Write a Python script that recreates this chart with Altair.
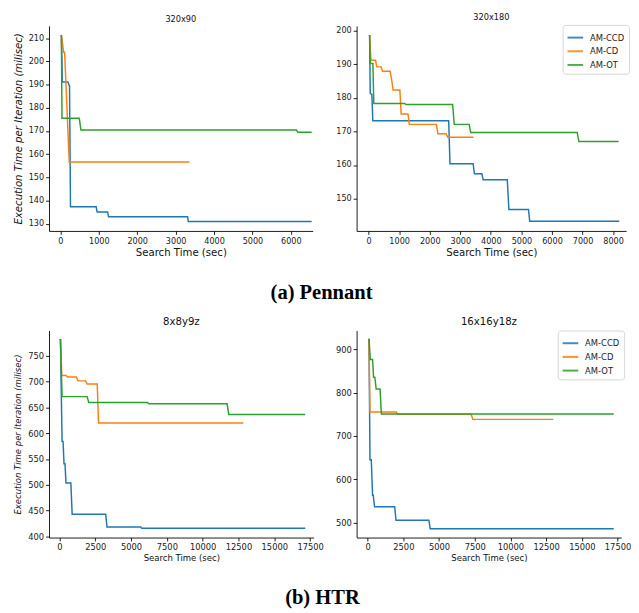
import altair as alt
import pandas as pd

SERIES = ["AM-CCD", "AM-CD", "AM-OT"]
COLORS = ["#1f77b4", "#ff7f0e", "#2ca02c"]

# ---- (a) Pennant, 320x90 ----
p1_ccd_x = [25, 50, 194, 237, 262, 931, 956, 1230, 1253, 3310, 3331, 6542]
p1_ccd_y = [211.4, 191.1, 191.1, 189.3, 137.3, 137.3, 135.1, 135.1, 133.0, 133.0, 131.0, 131.0]
p1_cd_x = [25, 84, 109, 229, 3356]
p1_cd_y = [211.4, 203.9, 203.9, 156.6, 156.6]
p1_ot_x = [25, 41, 491, 534, 6143, 6185, 6542]
p1_ot_y = [211.4, 175.5, 175.5, 170.4, 170.4, 169.4, 169.4]

# ---- (a) Pennant, 320x180 ----
p2_ccd_x = [32, 53, 106, 138, 2620, 2662, 3419, 3461, 3706, 3749, 4537, 4590, 5229, 5272, 8200]
p2_ccd_y = [198.7, 181.3, 181.0, 173.2, 173.2, 160.4, 160.4, 157.4, 157.4, 155.6, 155.6, 146.8, 146.8, 143.3, 143.3]
p2_cd_x = [32, 75, 224, 266, 405, 458, 703, 756, 799, 1022, 1065, 1289, 1331, 2215, 2268, 2535, 2588, 3429]
p2_cd_y = [198.7, 191.2, 191.2, 189.2, 189.2, 187.9, 187.9, 185.3, 182.3, 182.3, 175.2, 175.2, 172.1, 172.1, 169.3, 169.3, 168.3, 168.3]
p2_ot_x = [32, 53, 140, 170, 1182, 1225, 2748, 2801, 3290, 3340, 6826, 6880, 8179]
p2_ot_y = [198.7, 190.2, 190.2, 178.3, 178.3, 178.0, 178.0, 172.1, 172.1, 169.7, 169.7, 167.0, 167.0]

# ---- (b) HTR, 8x8y9z ----
p3_ccd_x = [68, 182, 250, 318, 386, 455, 795, 886, 3227, 3318, 5682, 5750, 17160]
p3_ccd_y = [782, 584, 584, 540.9, 540.9, 503.5, 503.5, 443, 443, 418.6, 418.6, 415.8, 415.8]
p3_cd_x = [68, 159, 455, 568, 1182, 1295, 1818, 1932, 2636, 2727, 12840]
p3_cd_y = [782, 711.4, 711.4, 708.5, 708.5, 701, 701, 695, 695, 619.4, 619.4]
p3_ot_x = [68, 182, 1932, 2045, 6136, 6250, 11705, 11818, 17160]
p3_ot_y = [782, 670.5, 670.5, 659.3, 659.3, 656.7, 656.7, 636, 636]

# ---- (b) HTR, 16x16y18z ----
p4_ccd_x = [91, 160, 251, 342, 388, 479, 1892, 1983, 4285, 4377, 17233]
p4_ccd_y = [924.6, 645.4, 645.4, 563, 563, 536.5, 536.5, 505.5, 505.5, 486, 486]
p4_cd_x = [91, 160, 2006, 2097, 7249, 7363, 12993]
p4_cd_y = [924.6, 755.4, 755.4, 750.5, 750.5, 738.5, 738.5]
p4_ot_x = [91, 183, 342, 410, 501, 593, 866, 957, 17233]
p4_ot_y = [924.6, 876.9, 876.9, 836, 836, 808.5, 808.5, 751, 751]

TITLES = ["320x90", "320x180", "8x8y9z", "16x16y18z"]
CAPTIONS = ["(a) Pennant", "(b) HTR"]
X_TITLE = "Search Time (sec)"
Y_TITLE = "Execution Time per Iteration (milisec)"


def make_df(lists):
    rows = []
    for name, xs, ys in zip(SERIES, lists[0::2], lists[1::2]):
        for i, (x, y) in enumerate(zip(xs, ys)):
            rows.append({"series": name, "x": x, "y": y, "i": i})
    return pd.DataFrame(rows)


def panel(df, title, title_size, w, h, xdom, xticks, ydom, yticks, ytitle,
          tick_font, label_font, legend_xy):
    color_legend = None
    if legend_xy is not None:
        color_legend = alt.Legend(
            orient="none", legendX=legend_xy[0], legendY=legend_xy[1],
            title=None, symbolType="stroke",
            symbolSize=256, symbolStrokeWidth=2, labelFontSize=8.6,
            labelFont="DejaVu Sans", labelColor="#222", fillColor="white",
            strokeColor="#d6d6d6", padding=4, cornerRadius=3,
            rowPadding=0, labelOffset=6, symbolOpacity=0.85,
        )
    yaxis = alt.Axis(values=yticks, title=ytitle, titleFontStyle="italic",
                     titleFontSize=label_font, labelFontSize=tick_font,
                     titlePadding=5)
    if ytitle is None:
        yaxis = alt.Axis(values=yticks, title=None, labelFontSize=tick_font)
    return alt.Chart(df).mark_line(strokeWidth=1.5, clip=True).encode(
        x=alt.X("x:Q", scale=alt.Scale(domain=xdom, nice=False, zero=False),
                axis=alt.Axis(values=xticks, title=X_TITLE, format="d",
                              labelFontSize=tick_font, titleFontSize=label_font,
                              titlePadding=3, labelFlush=False)),
        y=alt.Y("y:Q", scale=alt.Scale(domain=ydom, nice=False, zero=False),
                axis=yaxis),
        color=alt.Color("series:N", scale=alt.Scale(domain=SERIES, range=COLORS),
                        legend=color_legend),
        order="i:Q",
    ).properties(
        width=w, height=h,
        title=alt.TitleParams(title, fontSize=title_size, font="DejaVu Sans",
                              fontWeight="normal", offset=3, color="#111"),
    )


df1 = make_df([p1_ccd_x, p1_ccd_y, p1_cd_x, p1_cd_y, p1_ot_x, p1_ot_y])
df2 = make_df([p2_ccd_x, p2_ccd_y, p2_cd_x, p2_cd_y, p2_ot_x, p2_ot_y])
df3 = make_df([p3_ccd_x, p3_ccd_y, p3_cd_x, p3_cd_y, p3_ot_x, p3_ot_y])
df4 = make_df([p4_ccd_x, p4_ccd_y, p4_cd_x, p4_cd_y, p4_ot_x, p4_ot_y])

c1 = panel(df1, TITLES[0], 8.4, 270, 210, [-297, 6568], list(range(0, 6001, 1000)),
           [126.9, 215.3], list(range(130, 211, 10)), Y_TITLE, 8.3, 10.4, None)
c2 = panel(df2, TITLES[1], 8.4, 276, 210, [-393, 8425], list(range(0, 8001, 1000)),
           [140.4, 201.4], list(range(150, 201, 10)), None, 8.3, 10.4, (211, -1))
c3 = panel(df3, TITLES[2], 10.4, 271, 212, [-730, 17747], list(range(0, 17501, 2500)),
           [398, 798.3], list(range(400, 751, 50)), Y_TITLE, 8.5, 8.7, None)
c4 = panel(df4, TITLES[3], 10.4, 271, 212, [-777, 17759], list(range(0, 17501, 2500)),
           [465.4, 943.8], list(range(500, 901, 100)), None, 8.5, 8.7, (206, 0))


def caption(text, off):
    return alt.TitleParams(text, orient="bottom", anchor="middle",
                           font="Liberation Serif", fontSize=21,
                           fontWeight="bold", offset=off, color="#000")


row1 = alt.hconcat(c1, c2, spacing=45, bounds="flush",
                   title=caption(CAPTIONS[0], 26)).resolve_scale(color="independent")
row2 = alt.hconcat(c3, c4, spacing=44, bounds="flush",
                   title=caption(CAPTIONS[1], 25)).resolve_scale(color="independent")

chart = alt.vconcat(row1, row2, spacing=13).resolve_scale(
    color="independent"
).properties(
    padding={"left": 5, "top": -2, "right": 0, "bottom": 0}
).configure_view(stroke=None).configure_axis(
    grid=False, domainColor="#000", domainWidth=0.9, tickColor="#000",
    tickWidth=0.9, tickSize=3.5, labelPadding=2, labelColor="#222",
    titleColor="#111", labelFont="DejaVu Sans", titleFont="DejaVu Sans",
    titleFontWeight="normal",
)

chart.save("out.html", embed_options={"renderer": "svg", "actions": False})
